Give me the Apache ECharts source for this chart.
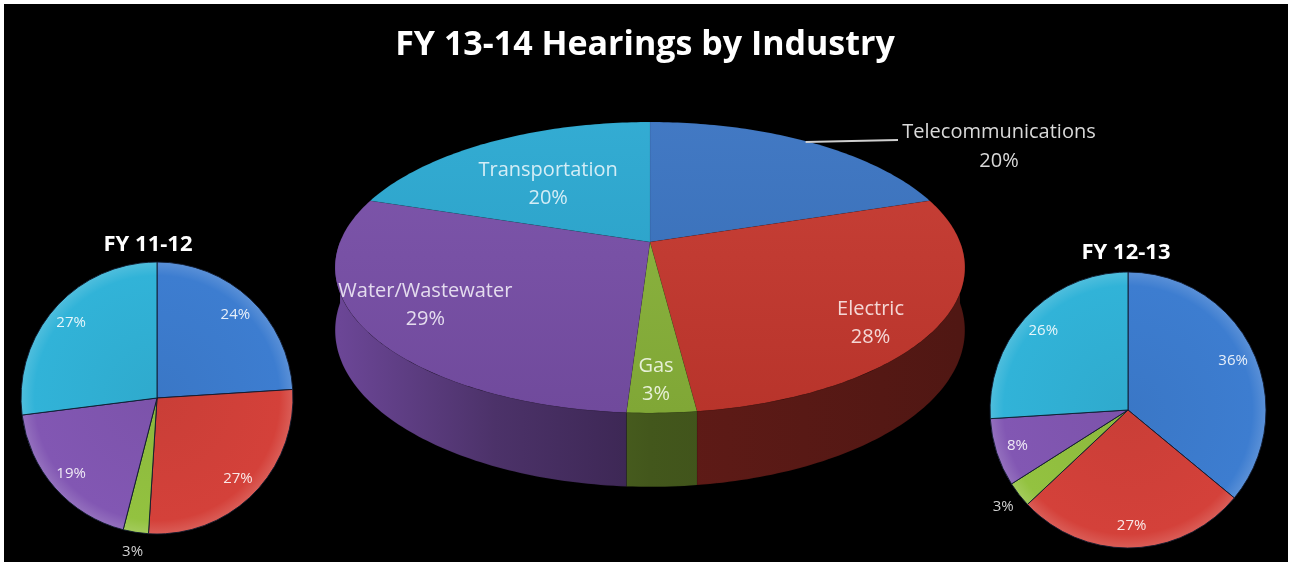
<!DOCTYPE html>
<html><head><meta charset="utf-8">
<script src="https://cdn.jsdelivr.net/npm/echarts@6/dist/echarts.min.js"></script>
<style>html,body{margin:0;padding:0;background:#fff}#c{width:1291px;height:562px}</style>
</head><body><div id="c"></div>
<script>
// ---------- data ----------
const industries = ['Telecommunications', 'Electric', 'Gas', 'Water/Wastewater', 'Transportation'];
const fy1112 = [24, 27, 3, 19, 27];
const fy1213 = [36, 27, 3, 8, 26];
const fy1314 = [20, 28, 3, 29, 20];
const titles = ['FY 13-14 Hearings by Industry', 'FY 11-12', 'FY 12-13'];

// ---------- style / layout ----------
const FONT = '"Open Sans", "Noto Sans", sans-serif';
const colors = ['#3a74c2', '#c8392f', '#8bb53b', '#7a50aa', '#2aa9d2'];
const smallColors = ['#3d7dd0', '#d4413a', '#93c240', '#8257b3', '#31b3d8'];
const lift = echarts.color.lift;
function shade(c, f) {
  const a = echarts.color.parse(c);
  return 'rgb(' + [0, 1, 2].map(i => Math.round(a[i] * f)).join(',') + ')';
}
const P = { cx: 650, cy: 242, a: 310, b: 141, k: 0.175, h: 61 };
const bigLabelFrac = [1, 0.82, 0.8, 0.8, 0.62];
const bigLabelShift = [[0, 0], [-12, 14], [-3, 7], [-2, -6], [2, 7]];
const bigLabelOutside = [true, false, false, false, false];
const small = [
  { c: [157, 398], r: 136, vals: fy1112 },
  { c: [1128, 410], r: 138, vals: fy1213 }
];

function cumAngles(vals) {
  const tot = vals.reduce((a, b) => a + b, 0);
  let acc = 0;
  return vals.map(v => { const s = acc / tot * 2 * Math.PI; acc += v; return [s, acc / tot * 2 * Math.PI]; });
}
function proj(t, f) {
  const X = f * Math.sin(t), Z = f * Math.cos(t), s = 1 / (1 + P.k * Z);
  return [P.cx + P.a * X * s, P.cy - P.b * Z * s, s];
}

function renderWall(params, api) {
  const ang = cumAngles(fy1314)[params.dataIndex];
  const t0 = Math.max(ang[0], Math.PI / 2), t1 = Math.min(ang[1], 3 * Math.PI / 2);
  if (t1 <= t0) return { type: 'group', children: [] };
  const n = Math.max(2, Math.ceil((t1 - t0) / (Math.PI / 180)));
  const top = [], bot = [];
  for (let j = 0; j <= n; j++) {
    const p = proj(t0 + (t1 - t0) * j / n, 1);
    top.push([p[0], p[1]]);
    bot.push([p[0], p[1] + P.h * p[2]]);
  }
  const c = colors[params.dataIndex];
  return {
    type: 'polygon',
    shape: { points: top.concat(bot.reverse()) },
    style: {
      fill: { type: 'linear', x: P.cx - P.a, y: 0, x2: P.cx + P.a, y2: 0, global: true,
        colorStops: [{ offset: 0, color: shade(c, 0.88) }, { offset: 0.25, color: shade(c, 0.62) },
          { offset: 0.5, color: shade(c, 0.48) }, { offset: 1, color: shade(c, 0.4) }] },
      stroke: 'rgba(0,0,0,0.2)', lineWidth: 0.5
    }
  };
}

function renderTop(params, api) {
  const i = params.dataIndex;
  const ang = cumAngles(fy1314)[i];
  const t0 = ang[0], t1 = ang[1];
  const n = Math.max(2, Math.ceil((t1 - t0) / (Math.PI / 180)));
  const pts = [[P.cx, P.cy]];
  for (let j = 0; j <= n; j++) { const p = proj(t0 + (t1 - t0) * j / n, 1); pts.push([p[0], p[1]]); }
  const c = colors[i];
  const children = [{
    type: 'polygon', shape: { points: pts },
    style: {
      fill: { type: 'linear', x: 0, y: P.cy - P.b, x2: 0, y2: P.cy + P.b * 1.2, global: true,
        colorStops: [{ offset: 0, color: lift(c, 0.05) }, { offset: 1, color: shade(c, 0.92) }] },
      stroke: 'rgba(0,0,0,0.12)', lineWidth: 0.5
    }
  }];
  const mid = (t0 + t1) / 2;
  const txt = industries[i] + '\n' + api.value(0) + '%';
  if (bigLabelOutside[i]) {
    const e = proj(mid, 1);
    const endX = 898;
    children.push({ type: 'line', shape: { x1: e[0] - 4, y1: e[1], x2: endX, y2: e[1] - 2 },
      style: { stroke: '#cfcfcf', lineWidth: 2 } });
    children.push({ type: 'text', x: endX + 101, y: e[1] - 24,
      style: { text: txt, fill: '#d9d9d9', font: '20px ' + FONT, align: 'center', verticalAlign: 'top', lineHeight: 29 } });
  } else {
    const p = proj(mid, bigLabelFrac[i]);
    children.push({ type: 'text', x: p[0] + bigLabelShift[i][0], y: p[1] + bigLabelShift[i][1],
      style: { text: txt, fill: lift(c, 0.8), font: '20px ' + FONT, align: 'center', verticalAlign: 'middle', lineHeight: 28 } });
  }
  return { type: 'group', children };
}

function smallSeries(s) {
  const grad = c => ({ type: 'radial', x: s.c[0], y: s.c[1], r: s.r, global: true,
    colorStops: [{ offset: 0, color: shade(c, 0.95) }, { offset: 0.9, color: c }, { offset: 1, color: lift(c, 0.15) }] });
  return [{
    type: 'pie', center: s.c, radius: [0, s.r], silent: true, startAngle: 90, clockwise: true,
    label: { show: false }, labelLine: { show: false },
    itemStyle: { borderColor: 'rgba(15,25,45,0.9)', borderWidth: 1 },
    data: s.vals.map((v, i) => ({ name: industries[i], value: v, itemStyle: { color: grad(smallColors[i]) } }))
  }, {
    type: 'pie', center: s.c, radius: [s.r * 0.64, s.r], silent: true, startAngle: 90, clockwise: true,
    avoidLabelOverlap: false,
    itemStyle: { color: 'rgba(0,0,0,0)' },
    label: { show: true, position: 'inside', formatter: '{c}%', color: 'rgba(255,255,255,0.88)', fontSize: 15, fontFamily: FONT },
    labelLine: { show: false, length: 20, length2: 0 },
    labelLayout: p => (p.dataIndex === 2 ? { align: 'center', verticalAlign: 'middle' } : {}),
    data: s.vals.map((v, i) => (i === 2 ?
      { name: industries[i], value: v, label: { position: 'outside', color: '#d0d0d0', distanceToLabelLine: 0 } } :
      { name: industries[i], value: v }))
  }];
}

const chart = echarts.init(document.getElementById('c'));
chart.setOption({
  animation: false,
  backgroundColor: '#ffffff',
  graphic: [{ type: 'rect', shape: { x: 4, y: 4, width: 1284, height: 558 }, style: { fill: '#000' }, z: -10, silent: true }],
  title: [
    { text: titles[0], left: 645, textAlign: 'center', top: 28, padding: 0,
      textStyle: { color: '#fff', fontSize: 34, fontWeight: 'bold', fontFamily: FONT } },
    { text: titles[1], left: 148, textAlign: 'center', top: 234, padding: 0,
      textStyle: { color: '#fff', fontSize: 22, fontWeight: 'bold', fontFamily: FONT } },
    { text: titles[2], left: 1126, textAlign: 'center', top: 242, padding: 0,
      textStyle: { color: '#fff', fontSize: 22, fontWeight: 'bold', fontFamily: FONT } }
  ],
  series: [
    { type: 'custom', coordinateSystem: 'none', silent: true, renderItem: renderWall,
      data: fy1314.map(v => [v]) },
    { type: 'custom', coordinateSystem: 'none', silent: true, renderItem: renderTop,
      data: fy1314.map(v => [v]) }
  ].concat(smallSeries(small[0]), smallSeries(small[1]))
});
</script></body></html>
